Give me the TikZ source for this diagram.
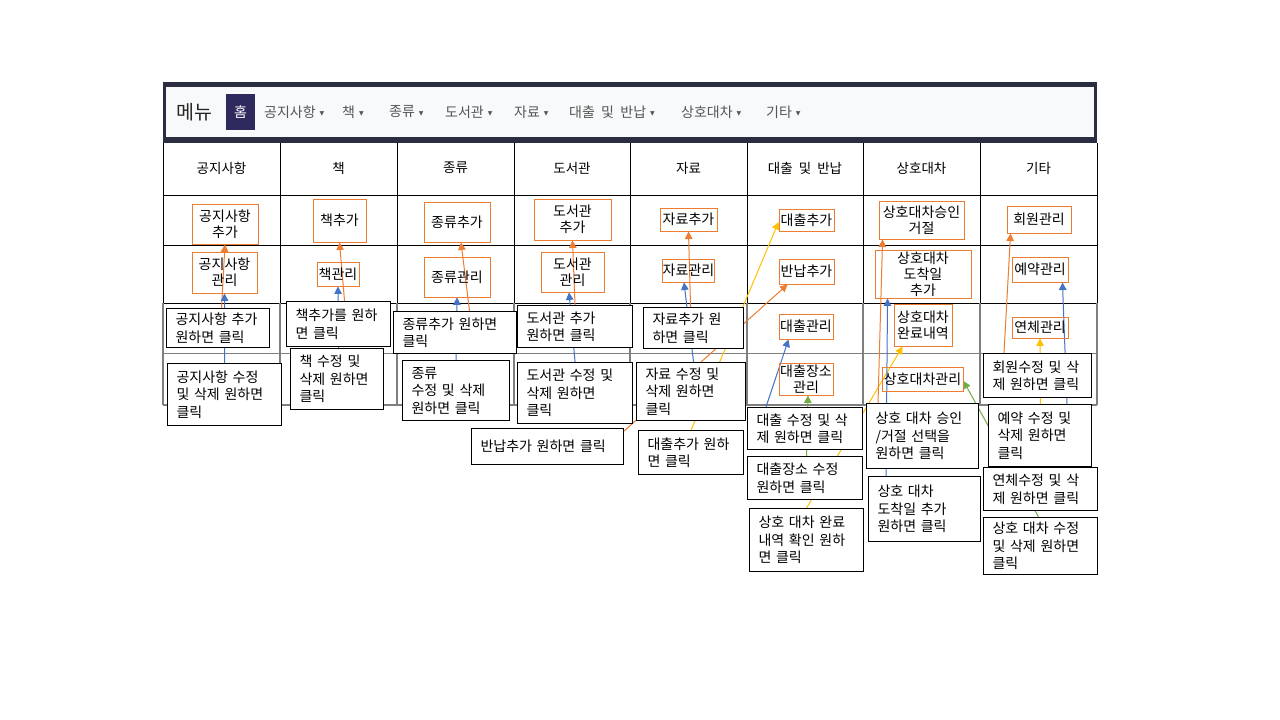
\documentclass[tikz,border=0pt]{standalone}
\usepackage{fontspec}
\setmainfont[WordSpace=2]{Noto Sans CJK KR}
\newfontfamily\dejavu{DejaVu Sans}
\usetikzlibrary{arrows.meta}
\definecolor{orangeC}{HTML}{ED7D31}
\definecolor{blueC}{HTML}{4472C4}
\definecolor{yellowC}{HTML}{FFC000}
\definecolor{greenC}{HTML}{70AD47}
\definecolor{navyband}{HTML}{2A2E40}
\definecolor{barbg}{HTML}{F8F9FA}
\definecolor{homebg}{HTML}{2E2A5E}
\definecolor{menugray}{HTML}{555555}
\definecolor{gridgray}{HTML}{7F7F7F}
\pgfdeclarelayer{tbl}
\pgfdeclarelayer{conn}
\pgfsetlayers{tbl,conn,main}
\newcommand{\caret}{\hspace{4pt}\raisebox{1.5pt}{\dejavu\fontsize{6}{7}\selectfont ▼}}
\tikzset{
  obox/.style={draw=orangeC, line width=0.9pt, align=center, inner sep=0pt, font=\fontsize{14}{16}\selectfont},
  cbox/.style={draw=black, fill=white, line width=1.1pt, anchor=north west, inner xsep=9pt, inner ysep=0pt, align=left, font=\fontsize{14}{17.5}\selectfont},
  hdr/.style={inner sep=0pt, font=\fontsize{13.5}{15}\selectfont},
  menuitem/.style={anchor=west, inner sep=0pt, text=menugray, font=\fontsize{14}{16}\selectfont},
  link/.style={line width=1pt, -{Triangle[width=7.5pt,length=7.5pt]}},
}
\begin{document}
\begin{tikzpicture}[x=1pt,y=-1pt]
\useasboundingbox (0,0) rectangle (1280,720);

\begin{pgfonlayer}{tbl}
\fill[white] (0,0) rectangle (1280,720);
% menu band
\fill[navyband] (163,82) rectangle (1097,143);
\fill[barbg] (166,87) rectangle (1094,137);
% table upper part
\foreach \yy in {195,245,303} \draw[black, line width=0.8pt] (163,\yy) -- (1097,\yy);
\foreach \xx in {163,280,397,514,630,747,863,980,1097} \draw[black, line width=0.8pt] (\xx,143) -- (\xx,303);
% table lower part
\foreach \xx in {163,280,397,514,630,747,863,980,1097} \draw[gridgray, line width=1.3pt] (\xx,303) -- (\xx,405);
\draw[gridgray, line width=1pt] (163,353) -- (1097,353);
\draw[gridgray, line width=2pt] (163,405) -- (1097,405);
\end{pgfonlayer}

% menu bar
\node[font=\fontsize{19.5}{22}\selectfont, text=black!85, inner sep=0pt] (menu) at (194,112) {메뉴};
\node[fill=homebg, minimum width=29pt, minimum height=36pt, inner sep=0pt, text=white, font=\fontsize{14}{16}\selectfont] (home) at (240.5,112) {홈};
\node[menuitem] (m1) at (264,112) {공지사항\caret};
\node[menuitem] (m2) at (342,112) {책\caret};
\node[menuitem] (m3) at (389,112) {종류\caret};
\node[menuitem] (m4) at (445,112) {도서관\caret};
\node[menuitem] (m5) at (514,112) {자료\caret};
\node[menuitem] (m6) at (569,112) {대출 및 반납\caret};
\node[menuitem] (m7) at (681,112) {상호대차\caret};
\node[menuitem] (m8) at (766,112) {기타\caret};

% header row
\node[hdr] (h1) at (221.5,168) {공지사항};
\node[hdr] (h2) at (338.5,168) {책};
\node[hdr] (h3) at (455.5,168) {종류};
\node[hdr] (h4) at (572,168) {도서관};
\node[hdr] (h5) at (688.5,168) {자료};
\node[hdr] (h6) at (805,168) {대출 및 반납};
\node[hdr] (h7) at (921.5,168) {상호대차};
\node[hdr] (h8) at (1038.5,168) {기타};

% orange boxes
\node[obox, minimum width=66pt, minimum height=40pt] (oN1) at (225,224) {공지사항\\추가};
\node[obox, minimum width=65pt, minimum height=41pt] (oN2) at (224.5,272.5) {공지사항\\관리};
\node[obox, minimum width=53pt, minimum height=43pt] (oB1) at (339.5,220.5) {책추가};
\node[obox, minimum width=42pt, minimum height=24pt] (oB2) at (338,274) {책관리};
\node[obox, minimum width=66pt, minimum height=40pt] (oK1) at (457,222) {종류추가};
\node[obox, minimum width=66pt, minimum height=40pt] (oK2) at (457,277) {종류관리};
\node[obox, minimum width=77pt, minimum height=41pt] (oL1) at (572.5,219.5) {도서관\\추가};
\node[obox, minimum width=63pt, minimum height=40pt] (oL2) at (572.5,272) {도서관\\관리};
\node[obox, minimum width=57pt, minimum height=23pt] (oM1) at (688.5,219.5) {자료추가};
\node[obox, minimum width=51pt, minimum height=23pt] (oM2) at (688.5,270.5) {자료관리};
\node[obox, minimum width=55pt, minimum height=22pt] (oD1) at (806.5,220) {대출추가};
\node[obox, minimum width=55pt, minimum height=25pt] (oD2) at (806.5,271.5) {반납추가};
\node[obox, minimum width=54pt, minimum height=25pt] (oD3) at (806,326.5) {대출관리};
\node[obox, minimum width=54pt, minimum height=32pt] (oD4) at (806,379) {대출장소\\관리};
\node[obox, minimum width=85pt, minimum height=38pt] (oS1) at (921.5,220) {상호대차승인\\거절};
\node[obox, minimum width=96pt, minimum height=48pt] (oS2) at (923,274) {상호대차\\도착일\\추가};
\node[obox, minimum width=58pt, minimum height=42pt] (oS3) at (923,325) {상호대차\\완료내역};
\node[obox, minimum width=81pt, minimum height=24pt] (oS4) at (922.5,379) {상호대차관리};
\node[obox, minimum width=64pt, minimum height=27pt] (oG1) at (1039,219.5) {회원관리};
\node[obox, minimum width=56pt, minimum height=25pt] (oG2) at (1040,269.5) {예약관리};
\node[obox, minimum width=56pt, minimum height=21pt] (oG3) at (1040,327.5) {연체관리};

% callouts
\node[cbox, minimum width=103pt, minimum height=39pt, text width=85pt] (cN1) at (166,308) {공지사항 추가\\원하면 클릭};
\node[cbox, minimum width=114pt, minimum height=62pt, text width=96pt] (cN2) at (167,363) {공지사항 수정\\및 삭제 원하면\\클릭};
\node[cbox, minimum width=104pt, minimum height=45pt, text width=86pt] (cB1) at (286,301) {책추가를 원하\\면 클릭};
\node[cbox, minimum width=93pt, minimum height=61pt, text width=75pt] (cB2) at (290,348) {책 수정 및\\삭제 원하면\\클릭};
\node[cbox, minimum width=123pt, minimum height=42pt, text width=105pt] (cK1) at (393,311) {종류추가 원하면\\클릭};
\node[cbox, minimum width=107pt, minimum height=60pt, text width=89pt] (cK2) at (402,360) {종류\\수정 및 삭제\\원하면 클릭};
\node[cbox, minimum width=115pt, minimum height=42pt, text width=97pt] (cL1) at (517,305) {도서관 추가\\원하면 클릭};
\node[cbox, minimum width=115pt, minimum height=61pt, text width=97pt] (cL2) at (517,362) {도서관 수정 및\\삭제 원하면\\클릭};
\node[cbox, minimum width=152pt, minimum height=36pt, text width=134pt] (cD0) at (471,428) {반납추가 원하면 클릭};
\node[cbox, minimum width=100pt, minimum height=41pt, text width=82pt] (cM1) at (643,307) {자료추가 원\\하면 클릭};
\node[cbox, minimum width=109pt, minimum height=58pt, text width=91pt] (cM2) at (636,362) {자료 수정 및\\삭제 원하면\\클릭};
\node[cbox, minimum width=105pt, minimum height=44pt, text width=87pt] (cD1) at (638,430) {대출추가 원하\\면 클릭};
\node[cbox, minimum width=115pt, minimum height=42pt, text width=97pt] (cD2) at (747,407) {대출 수정 및 삭\\제 원하면 클릭};
\node[cbox, minimum width=115pt, minimum height=43pt, text width=97pt] (cD3) at (747,456) {대출장소 수정\\원하면 클릭};
\node[cbox, minimum width=114pt, minimum height=63pt, text width=96pt] (cS3) at (749,508) {상호 대차 완료\\내역 확인 원하\\면 클릭};
\node[cbox, minimum width=112pt, minimum height=65pt, text width=94pt] (cS1) at (866,403) {상호 대차 승인\\/거절 선택을\\원하면 클릭};
\node[cbox, minimum width=112pt, minimum height=65pt, text width=94pt] (cS2) at (868,476) {상호 대차\\도착일 추가\\원하면 클릭};
\node[cbox, minimum width=108pt, minimum height=44pt, text width=90pt] (cG1) at (983,353) {회원수정 및 삭\\제 원하면 클릭};
\node[cbox, minimum width=103pt, minimum height=62pt, text width=85pt] (cG2) at (988,404) {예약 수정 및\\삭제 원하면\\클릭};
\node[cbox, minimum width=114pt, minimum height=43pt, text width=96pt] (cG3) at (983,467) {연체수정 및 삭\\제 원하면 클릭};
\node[cbox, minimum width=114pt, minimum height=57pt, text width=96pt] (cS4) at (983,517) {상호 대차 수정\\및 삭제 원하면\\클릭};

% connectors
\begin{pgfonlayer}{conn}
\draw[link, orangeC] ([xshift=3.5pt]cN1.north) -- (oN1.south);
\draw[link, blueC] (cN2.north) -- (oN2.south);
\draw[link, orangeC] ([xshift=6pt]cB1.north) -- (oB1.south);
\draw[link, blueC] ([xshift=1.5pt]cB2.north) -- (oB2.south);
\draw[link, orangeC] ([xshift=14.5pt]cK1.north) -- ([xshift=4pt]oK1.south);
\draw[link, blueC] (cK2.north) -- (oK2.south);
\draw[link, orangeC] (cL1.north) -- (oL1.south);
\draw[link, blueC] (cL2.north) -- ([xshift=-3.5pt]oL2.south);
\draw[link, orangeC] ([xshift=-3pt]cM1.north) -- (oM1.south);
\draw[link, blueC] ([xshift=2.5pt]cM2.north) -- ([xshift=-4.5pt]oM2.south);
\draw[link, yellowC] (cD1.north) -- ([yshift=-2pt]oD1.west);
\draw[link, orangeC] ([yshift=-3pt]cD0.north east) -- ([xshift=9pt]oD2.south west);
\draw[link, blueC] ([xshift=19pt]cD2.north west) -- ([xshift=10pt]oD3.south west);
\draw[link, greenC] ([xshift=1.5pt]cD3.north) -- ([xshift=2pt]oD4.south);
\draw[link, yellowC] (cS3.north) -- ([xshift=9pt]oS3.south west);
\draw[link, orangeC] ([xshift=12pt]cS1.north west) -- ([xshift=4pt]oS1.south west);
\draw[link, blueC] ([xshift=18pt]cS2.north west) -- ([xshift=13pt]oS2.south west);
\draw[link, orangeC] ([xshift=21pt]cG1.north west) -- ([xshift=4pt]oG1.south west);
\draw[link, blueC] ([xshift=79pt]cG2.north west) -- ([xshift=-6pt]oG2.south east);
\draw[link, yellowC] (cG3.north) -- (oG3.south);
\draw[link, greenC] ([xshift=-2pt]cS4.north) -- ([yshift=-2pt]oS4.east);
\end{pgfonlayer}
\end{tikzpicture}
\end{document}
